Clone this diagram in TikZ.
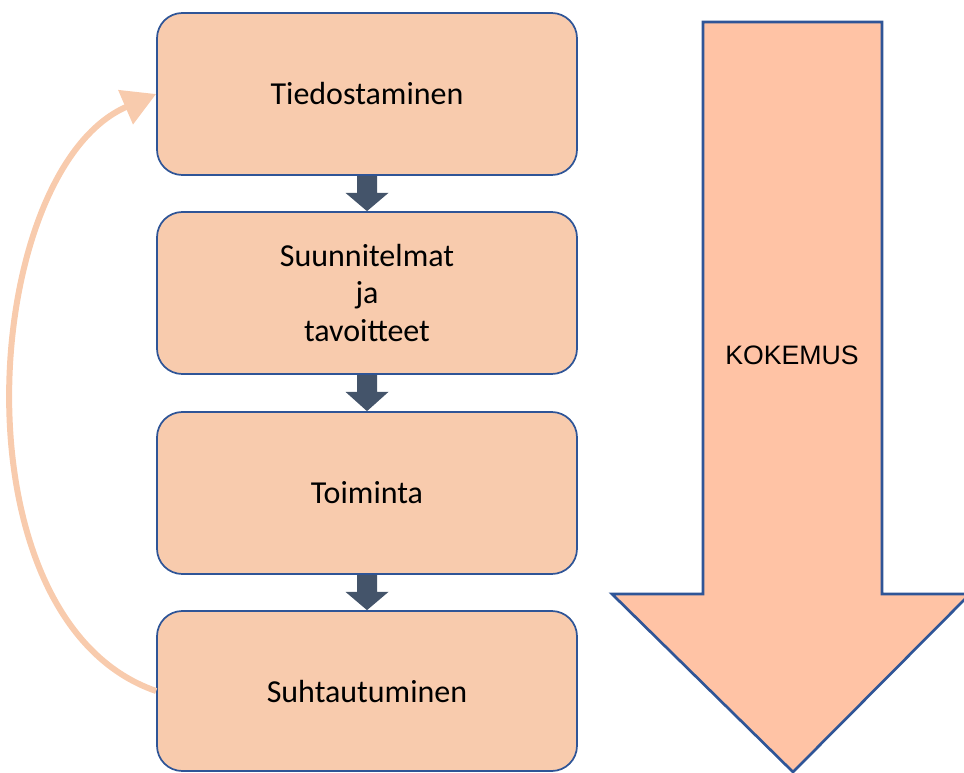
\documentclass[tikz,border=0pt]{standalone}
\usepackage{fontspec}
\setmainfont{Carlito}
\newfontfamily\arialfont{Liberation Sans}
\usetikzlibrary{arrows.meta, calc, positioning}

\definecolor{boxfill}{HTML}{F8CBAD}
\definecolor{bigfill}{HTML}{FFC3A5}
\definecolor{edgeblue}{HTML}{2F5597}
\definecolor{darkarrow}{HTML}{44546A}

\begin{document}
\begin{tikzpicture}[
  x=0.75pt,
  y=-0.75pt,
  stage/.style={draw=edgeblue, line width=1.3pt, fill=boxfill, rounded corners=19pt, minimum width=315pt, minimum height=121.5pt, align=center, font=\fontsize{24}{28.5}\selectfont},
  flow/.style={fill=darkarrow},
  loop/.style={draw=boxfill, line width=4.5pt, -{Triangle[length=25pt, width=27pt]}},
  big/.style={draw=edgeblue, line width=2pt, fill=bigfill}
  ]
\useasboundingbox (0,0) rectangle (964,772);

% boxes
\node[stage] (b1) at (367,94) {Tiedostaminen};
\node[stage] (b2) at (367,293) {Suunnitelmat\\ja\\tavoitteet};
\node[stage] (b3) at (367,493) {Toiminta};
\node[stage, minimum height=120pt] (b4) at (367,691) {Suhtautuminen};

% small arrows between boxes
\foreach \a/\b in {b1/b2, b2/b3, b3/b4}
  \fill[flow] ($(\a.south)+(-10,0)$) -- ++(20,0) -- ++(0,17) -- ++(11.5,0)
    -- (\b.north) -- ($(\a.south)+(-21.5,17)$) -- ++(11.5,0) -- cycle;

% feedback loop
\draw[loop] (b4.west) .. controls (-50,620) and (-20,170) .. (b1.west);

% big arrow
\draw[big] (703,22) -- (882,22) -- (882,594) -- (970,594) -- (793,772)
  -- (612,594) -- (703,594) -- cycle;
\node[font=\arialfont\fontsize{20}{24}\selectfont] (kok) at (792,355) {KOKEMUS};

\end{tikzpicture}
\end{document}
